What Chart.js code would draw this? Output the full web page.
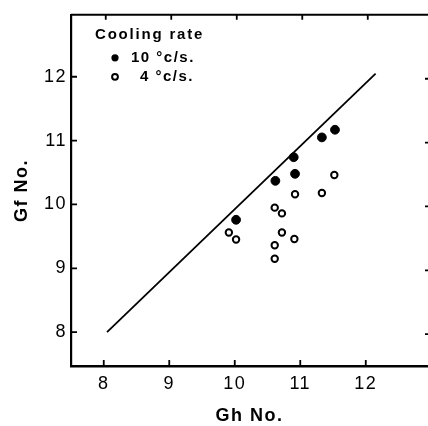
<!DOCTYPE html>
<html>
<head>
<meta charset="utf-8">
<script src="https://cdn.jsdelivr.net/npm/chart.js@4.4.1/dist/chart.umd.min.js"></script>
<style>
  html, body { margin: 0; padding: 0; background: #fff; overflow: hidden; width: 428px; height: 426px; }
  #wrap { width: 434px; height: 426px; position: relative; }
</style>
</head>
<body>
<div id="wrap"><canvas id="chart"></canvas></div>
<script>
// tick labels
const xTicks = [8, 9, 10, 11, 12];
const yTicks = [8, 9, 10, 11, 12];

// cooling rate 10 c/s (filled dots)
const fastLabel = '10 °c/s.';
const fastGh = [10.02, 10.62, 10.90, 10.92, 11.33, 11.53];
const fastGf = [9.76, 10.37, 10.74, 10.48, 11.05, 11.17];

// cooling rate 4 c/s (open circles)
const slowLabel = '4 °c/s.';
const slowGh = [9.91, 10.02, 10.61, 10.61, 10.61, 10.72, 10.72, 10.91, 10.92, 11.33, 11.52];
const slowGf = [9.56, 9.45, 9.15, 9.36, 9.95, 9.86, 9.56, 9.46, 10.16, 10.18, 10.46];

// reference line
const lineGh = [8.05, 12.15];
const lineGf = [8.00, 12.05];

const toPoints = (xs, ys) => xs.map((x, i) => ({ x: x, y: ys[i] }));

Chart.defaults.font.family = '"Liberation Sans", Arial, sans-serif';
Chart.defaults.color = '#000';

// frame bits Chart.js does not do: top border, inward ticks, legend box
const framePlugin = {
    id: 'frame',
    beforeDraw(chart) {
        chart.ctx.letterSpacing = '1.5px';
    },
    afterDraw(chart) {
        const { ctx, chartArea: a, scales } = chart;
        ctx.save();
        ctx.strokeStyle = '#000';
        ctx.fillStyle = '#000';

        // top border
        ctx.lineWidth = 2;
        ctx.beginPath();
        ctx.moveTo(a.left, a.top);
        ctx.lineTo(a.right, a.top);
        ctx.stroke();

        // inward ticks
        ctx.lineWidth = 1.8;
        ctx.beginPath();
        xTicks.forEach(v => {
            const px = scales.x.getPixelForValue(v);
            ctx.moveTo(px, a.bottom);
            ctx.lineTo(px, a.bottom - 6);
            ctx.moveTo(px + 2, a.top);
            ctx.lineTo(px + 2, a.top + 5);
        });
        yTicks.forEach(v => {
            const py = scales.y.getPixelForValue(v);
            ctx.moveTo(a.left, py);
            ctx.lineTo(a.left + 6, py);
            ctx.moveTo(a.right, py + 2);
            ctx.lineTo(a.right - 3, py + 2);
        });
        ctx.stroke();

        // legend
        ctx.letterSpacing = '1.8px';
        ctx.font = 'bold 15px "Liberation Sans", Arial, sans-serif';
        ctx.textBaseline = 'middle';
        ctx.textAlign = 'left';
        ctx.fillText('Cooling rate', a.left + 24, a.top + 20);

        ctx.letterSpacing = '1.5px';
        const mx = a.left + 44;
        ctx.beginPath();
        ctx.arc(mx, a.top + 43, 3.6, 0, Math.PI * 2);
        ctx.fill();
        ctx.fillText(chart.data.datasets[0].label, a.left + 60, a.top + 43);

        ctx.lineWidth = 2;
        ctx.beginPath();
        ctx.arc(mx, a.top + 62, 2.9, 0, Math.PI * 2);
        ctx.stroke();
        ctx.fillText(chart.data.datasets[1].label, a.left + 69, a.top + 62);

        ctx.restore();
    }
};

new Chart(document.getElementById('chart'), {
    type: 'scatter',
    data: {
        datasets: [
            {
                label: fastLabel,
                data: toPoints(fastGh, fastGf),
                pointRadius: 4.4,
                pointBackgroundColor: '#000',
                pointBorderColor: '#000',
                pointBorderWidth: 1
            },
            {
                label: slowLabel,
                data: toPoints(slowGh, slowGf),
                pointRadius: 3.2,
                pointBackgroundColor: '#fff',
                pointBorderColor: '#000',
                pointBorderWidth: 2
            },
            {
                label: 'line',
                data: toPoints(lineGh, lineGf),
                showLine: true,
                borderColor: '#000',
                borderWidth: 1.8,
                pointRadius: 0
            }
        ]
    },
    options: {
        responsive: true,
        maintainAspectRatio: false,
        animation: false,
        layout: { padding: { top: 13, right: 0, left: 0, bottom: 0 } },
        plugins: {
            legend: { display: false },
            tooltip: { enabled: false }
        },
        scales: {
            x: {
                type: 'linear',
                min: 7.5,
                max: 12.95,
                afterBuildTicks: s => { s.ticks = xTicks.map(v => ({ value: v })); },
                afterFit: s => { s.height = 60; },
                grid: { display: false, drawTicks: false },
                border: { display: true, color: '#000', width: 2.5 },
                ticks: { font: { size: 18 }, padding: 7, maxRotation: 0, autoSkip: false },
                title: {
                    display: true,
                    text: 'Gh No.',
                    font: { size: 18, weight: 'bold' },
                    padding: { top: 0, bottom: -1 }
                }
            },
            y: {
                type: 'linear',
                min: 7.47,
                max: 12.97,
                afterBuildTicks: s => { s.ticks = yTicks.map(v => ({ value: v })); },
                afterFit: s => { s.width = 71; },
                grid: { display: false, drawTicks: false },
                border: { display: true, color: '#000', width: 2.2 },
                ticks: { font: { size: 18 }, padding: 4, autoSkip: false },
                title: {
                    display: true,
                    text: 'Gf No.',
                    font: { size: 18, weight: 'bold' },
                    padding: { top: 11, bottom: 0 }
                }
            }
        }
    },
    plugins: [framePlugin]
});
</script>
</body>
</html>
